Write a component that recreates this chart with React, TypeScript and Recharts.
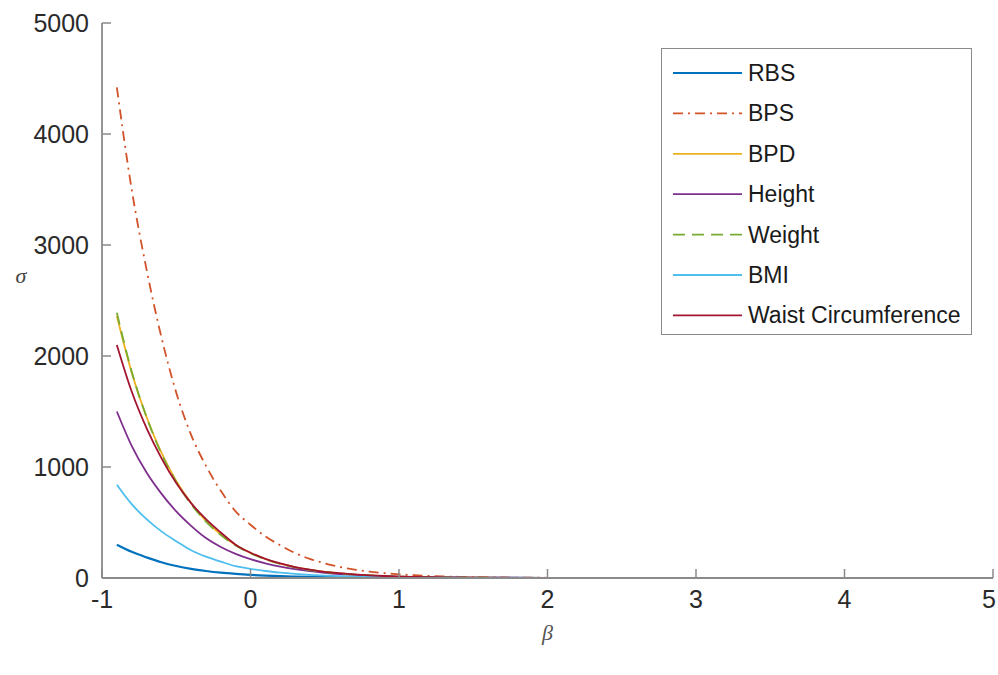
import React from "react"
import { LineChart, Line, XAxis, YAxis } from "recharts"

const beta = [
    -0.9, -0.8, -0.7, -0.6, -0.5, -0.4, -0.3, -0.2, -0.1, 0, 0.1, 0.2, 0.3, 0.4, 0.5, 0.6, 0.7, 0.8, 0.9, 1.0,
    1.1, 1.2, 1.3, 1.4, 1.5, 2, 2.5, 3, 3.5, 4, 4.5, 5,
]

const rbs = [
    300, 236, 186, 142, 108, 82, 63, 48, 37, 28, 21, 16, 12.5, 9.5, 7.3, 5.6, 4.3, 3.3, 2.5, 1.9,
    1.5, 1.1, 0.9, 0.7, 0.5, 0.1, 0, 0, 0, 0, 0, 0,
]
const bps = [
    4420, 3500, 2780, 2170, 1670, 1290, 1010, 785, 600, 480, 375, 295, 225, 172, 132, 100, 76, 58, 44, 33,
    25, 19, 14, 11, 8, 2, 0.6, 0.2, 0, 0, 0, 0,
]
const bpd = [
    2360, 1850, 1450, 1130, 875, 675, 515, 392, 298, 226, 171, 129, 97, 73, 55, 42, 31, 23, 17, 13,
    10, 7, 5, 4, 3, 0.6, 0.1, 0, 0, 0, 0, 0,
]
const height = [
    1500, 1190, 950, 760, 600, 470, 360, 280, 218, 170, 132, 102, 79, 61, 47, 36, 28, 21, 16, 12.5,
    9.6, 7.4, 5.7, 4.4, 3.4, 0.7, 0.1, 0, 0, 0, 0, 0,
]
const weight = [
    2390, 1860, 1450, 1120, 865, 665, 508, 388, 294, 223, 168, 127, 96, 72, 54, 41, 31, 23, 17, 13,
    10, 7, 5, 4, 3, 0.6, 0.1, 0, 0, 0, 0, 0,
]
const bmi = [
    840, 665, 530, 420, 332, 250, 192, 148, 106, 82, 63, 49, 38, 29, 22, 17, 13, 10, 8, 6.3,
    4.9, 3.8, 2.9, 2.2, 1.7, 0.4, 0.1, 0, 0, 0, 0, 0,
]
const waist = [
    2100, 1680, 1350, 1080, 855, 675, 530, 410, 300, 228, 173, 131, 99, 75, 56, 43, 32, 24, 18, 13,
    10, 7.5, 5.5, 4, 3, 0.6, 0.1, 0, 0, 0, 0, 0,
]

const xTicks = [-1, 0, 1, 2, 3, 4, 5]
const yTicks = [0, 1000, 2000, 3000, 4000, 5000]

const series = [
    { key: "rbs", label: "RBS", color: "#0072BD", dash: undefined, width: 2.2, values: rbs },
    { key: "bps", label: "BPS", color: "#D2532A", dash: "10 5 2 5", width: 1.8, values: bps },
    { key: "bpd", label: "BPD", color: "#EDB120", dash: undefined, width: 1.8, values: bpd },
    { key: "height", label: "Height", color: "#7E2F8E", dash: undefined, width: 1.8, values: height },
    { key: "weight", label: "Weight", color: "#77AC30", dash: "12 7", width: 1.8, values: weight },
    { key: "bmi", label: "BMI", color: "#4DBEEE", dash: undefined, width: 1.8, values: bmi },
    { key: "waist", label: "Waist Circumference", color: "#A2142F", dash: undefined, width: 1.8, values: waist },
]

const data = beta.map((b, i) => {
    const row: Record<string, number> = { beta: b }
    series.forEach((s) => (row[s.key] = s.values[i]))
    return row
})

const font = '"Liberation Sans", Arial, sans-serif'
const serif = '"Liberation Serif", "DejaVu Serif", serif'
const axisColor = "#8a8a8a"
const textColor = "#2a2a2a"

function XTick(props: any) {
    const { x, y, payload } = props
    // keep the last label inside the page
    const tx = Math.min(x, 989)
    return (
        <g>
            <line x1={x} y1={y} x2={x} y2={y - 9} stroke={axisColor} strokeWidth={1.5} />
            <text x={tx} y={y + 30} textAnchor="middle" fontSize={25} fontFamily={font} fill={textColor}>
                {payload.value}
            </text>
        </g>
    )
}

function YTick(props: any) {
    const { x, y, payload } = props
    return (
        <g>
            <line x1={x} y1={y} x2={x + 9} y2={y} stroke={axisColor} strokeWidth={1.5} />
            <text x={x - 13} y={y + 9} textAnchor="end" fontSize={25} fontFamily={font} fill={textColor}>
                {payload.value}
            </text>
        </g>
    )
}

function SigmaLabel() {
    return (
        <text x={21} y={283} textAnchor="middle" fontSize={22} fontStyle="italic" fontFamily={serif} fill="#444">
            σ
        </text>
    )
}

// legend drawn as an overlay so it doesn't eat into the plot area
function LegendBox() {
    return (
        <div
            style={{
                position: "absolute",
                left: 661,
                top: 48,
                width: 309,
                height: 285,
                border: `1.5px solid ${axisColor}`,
                background: "#fff",
            }}
        >
            <svg width={309} height={285}>
                {series.map((s, i) => {
                    const cy = 24 + i * 40.4
                    return (
                        <g key={s.key}>
                            <line x1={11} y1={cy} x2={80} y2={cy} stroke={s.color} strokeWidth={s.width} strokeDasharray={s.dash} />
                            <text x={86} y={cy + 8} fontSize={23} fontFamily={font} fill="#1a1a1a">
                                {s.label}
                            </text>
                        </g>
                    )
                })}
            </svg>
        </div>
    )
}

export default function App() {
    return (
        <div style={{ position: "absolute", left: 0, top: 0, width: 998, height: 675, background: "#fff" }}>
            <LineChart width={998} height={675} data={data} margin={{ top: 23, right: 5, left: 42, bottom: 37 }}>
                <XAxis
                    dataKey="beta"
                    type="number"
                    domain={[-1, 5]}
                    ticks={xTicks}
                    tickLine={false}
                    tickSize={0}
                    tickMargin={0}
                    height={60}
                    axisLine={{ stroke: axisColor, strokeWidth: 1.8 }}
                    tick={<XTick />}
                    label={{
                        value: "β",
                        position: "insideBottom",
                        offset: -2,
                        style: { fontStyle: "italic", fontFamily: serif, fontSize: 22, fill: "#555" },
                    }}
                />
                <YAxis
                    type="number"
                    domain={[0, 5000]}
                    ticks={yTicks}
                    tickLine={false}
                    tickSize={0}
                    tickMargin={0}
                    width={60}
                    axisLine={{ stroke: axisColor, strokeWidth: 1.8 }}
                    tick={<YTick />}
                    label={{ value: "σ", content: () => <SigmaLabel /> }}
                />
                {series.map((s) => (
                    <Line
                        key={s.key}
                        dataKey={s.key}
                        name={s.label}
                        type="monotone"
                        stroke={s.color}
                        strokeWidth={s.width}
                        strokeDasharray={s.dash}
                        dot={false}
                        isAnimationActive={false}
                    />
                ))}
            </LineChart>
            <LegendBox />
        </div>
    )
}
